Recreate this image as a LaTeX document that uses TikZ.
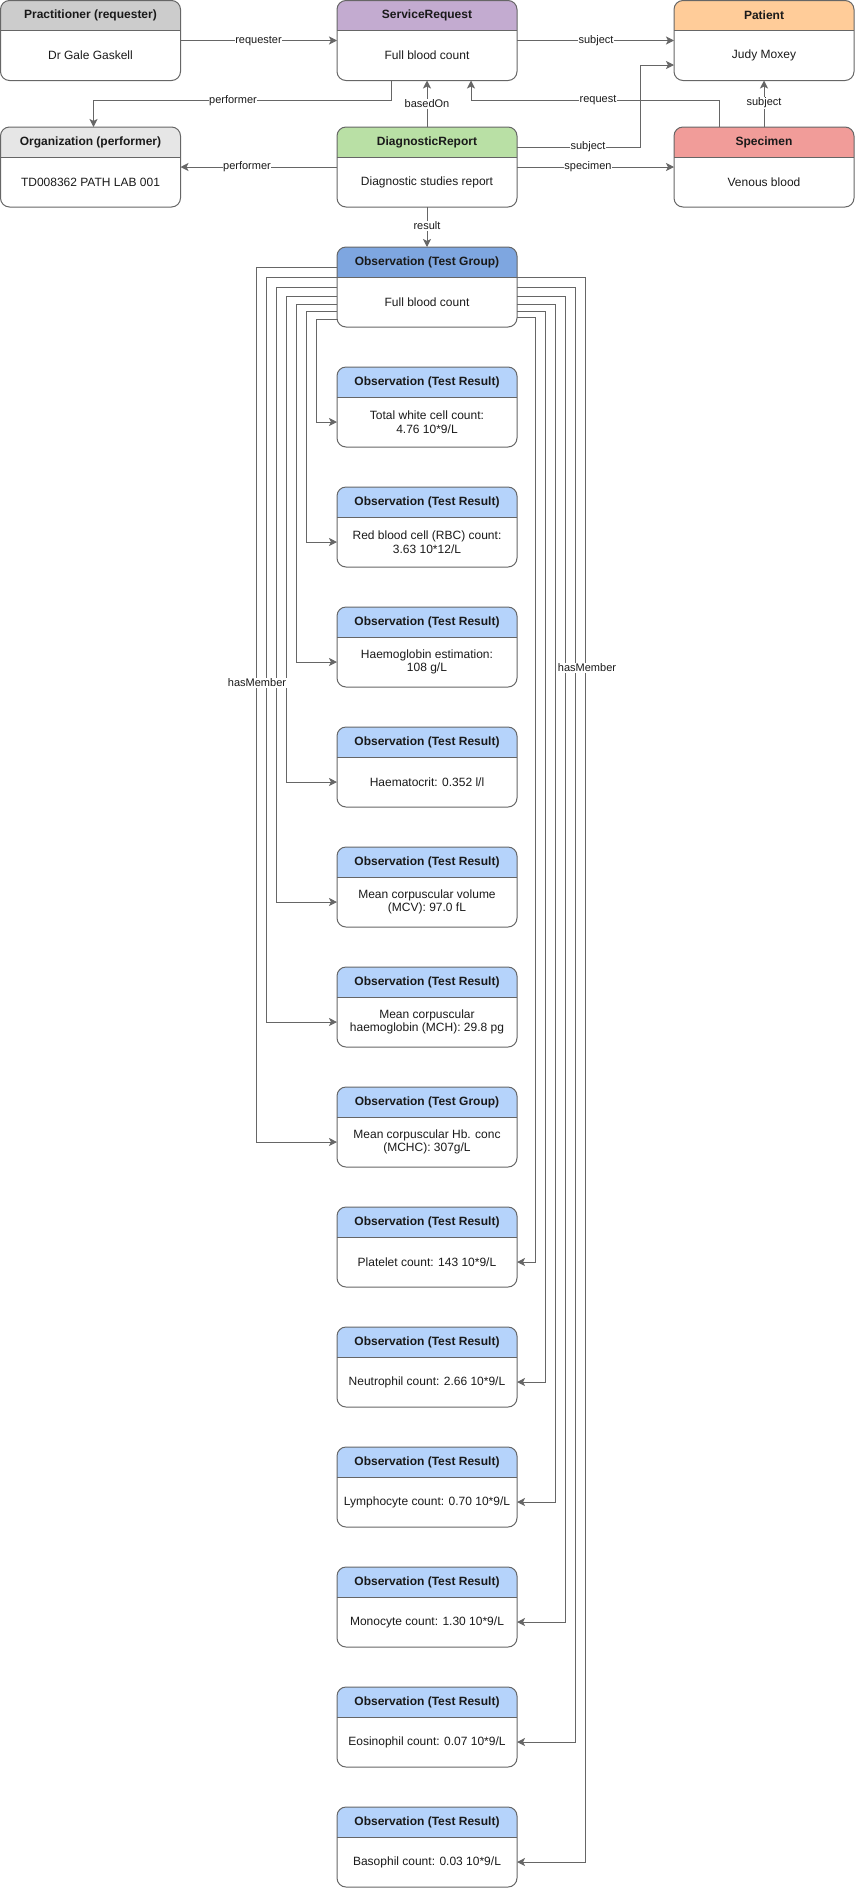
\documentclass[tikz,border=0pt]{standalone}
\usepackage{fontspec}
\setmainfont{Liberation Sans}
\usetikzlibrary{arrows.meta}
\definecolor{lg}{HTML}{666666}
\definecolor{tx}{HTML}{1A1A1A}
\definecolor{cprac}{HTML}{CCCCCC}
\definecolor{csr}{HTML}{C3ABD0}
\definecolor{cpat}{HTML}{FFCC99}
\definecolor{corg}{HTML}{E6E6E6}
\definecolor{cdr}{HTML}{B9E0A5}
\definecolor{cspec}{HTML}{F19C99}
\definecolor{cgrp}{HTML}{7EA6E0}
\definecolor{cres}{HTML}{B5D3FB}
\newcommand\swim[6]{%
  \begin{scope}
    \clip (#2,#3) rectangle ++(180,30);
    \fill[#4,rounded corners=9pt] (#2,#3) rectangle ++(180,80);
  \end{scope}
  \node[swbox] (#1) at ({#2+90},{#3+40}) {};
  \draw[boxline] (#2,{#3+30}) -- ++(180,0);
  \node[hdr] at ({#2+90},{#3+15}) {#5};
  \node[bdy] at ({#2+90},{#3+55}) {#6};
}
\begin{document}
\begin{tikzpicture}[x=1pt,y=-1pt,
  swbox/.style={draw=lg, line width=1pt, rounded corners=9pt, minimum width=180pt, minimum height=80pt, inner sep=0pt, outer sep=0pt},
  boxline/.style={draw=lg, line width=1pt},
  hdr/.style={font=\fontsize{12}{14}\selectfont\bfseries, text=tx, inner sep=0pt},
  bdy/.style={font=\fontsize{12}{13.5}\selectfont, text=tx, align=center, inner sep=0pt},
  conn/.style={draw=lg, line width=1pt, -{Stealth[length=8pt,width=8pt,inset=2pt]}},
  elab/.style={fill=white, font=\fontsize{11}{12}\selectfont, text=tx, inner sep=0.5pt}]
\useasboundingbox (0,0) rectangle (855,1888);

% top row
\swim{prac}{0.5}{0.5}{cprac}{Practitioner (requester)}{Dr Gale Gaskell}
\swim{sr}{337}{0.5}{csr}{ServiceRequest}{Full blood count}
\swim{pat}{674}{0.5}{cpat}{Patient}{Judy Moxey}
% second row
\swim{org}{0.5}{127}{corg}{Organization (performer)}{TD008362 PATH LAB 001}
\swim{dr}{337}{127}{cdr}{DiagnosticReport}{Diagnostic studies report}
\swim{spec}{674}{127}{cspec}{Specimen}{Venous blood}
% group
\swim{grp}{337}{247}{cgrp}{Observation (Test Group)}{Full blood count}
% results
\swim{r0}{337}{367}{cres}{Observation (Test Result)}{Total white cell count:\\4.76 10*9/L}
\swim{r1}{337}{487}{cres}{Observation (Test Result)}{Red blood cell (RBC) count:\\3.63 10*12/L}
\swim{r2}{337}{607}{cres}{Observation (Test Result)}{Haemoglobin estimation:\\108 g/L}
\swim{r3}{337}{727}{cres}{Observation (Test Result)}{Haematocrit: 0.352 l/l}
\swim{r4}{337}{847}{cres}{Observation (Test Result)}{Mean corpuscular volume\\(MCV): 97.0 fL}
\swim{r5}{337}{967}{cres}{Observation (Test Result)}{Mean corpuscular\\haemoglobin (MCH): 29.8 pg}
\swim{r6}{337}{1087}{cres}{Observation (Test Group)}{Mean corpuscular Hb. conc\\(MCHC): 307g/L}
\swim{r7}{337}{1207}{cres}{Observation (Test Result)}{Platelet count: 143 10*9/L}
\swim{r8}{337}{1327}{cres}{Observation (Test Result)}{Neutrophil count: 2.66 10*9/L}
\swim{r9}{337}{1447}{cres}{Observation (Test Result)}{Lymphocyte count: 0.70 10*9/L}
\swim{r10}{337}{1567}{cres}{Observation (Test Result)}{Monocyte count: 1.30 10*9/L}
\swim{r11}{337}{1687}{cres}{Observation (Test Result)}{Eosinophil count: 0.07 10*9/L}
\swim{r12}{337}{1807}{cres}{Observation (Test Result)}{Basophil count: 0.03 10*9/L}

% top connectors
\draw[conn] (prac.east) -- (sr.west);
\draw[conn] (sr.east) -- (pat.west);
\draw[conn] ([xshift=-36pt]sr.south) -- ++(0,20) -| ([xshift=3pt]org.north);
\draw[conn] (dr.north) -- (sr.south);
\draw[conn] (dr.west) -- (org.east);
\draw[conn] ([xshift=-45pt]spec.north) -- ++(0,-27) -| ([xshift=44pt]sr.south);
\draw[conn] (spec.north) -- (pat.south);
\draw[conn] ([yshift=20pt]dr.east) -- ++(123,0) |- ([yshift=-24.5pt]pat.west);
\draw[conn] (dr.east) -- (spec.west);
\draw[conn] (dr.south) -- (grp.north);

% left hasMember connectors
\draw[conn] ([yshift=-72pt]grp.north west) -- ++(-21,0) |- ([yshift=-15pt]r0.west);
\draw[conn] ([yshift=-64pt]grp.north west) -- ++(-31,0) |- ([yshift=-15pt]r1.west);
\draw[conn] ([yshift=-57.3pt]grp.north west) -- ++(-41,0) |- ([yshift=-15pt]r2.west);
\draw[conn] ([yshift=-49pt]grp.north west) -- ++(-51,0) |- ([yshift=-15pt]r3.west);
\draw[conn] ([yshift=-40.7pt]grp.north west) -- ++(-61,0) |- ([yshift=-15pt]r4.west);
\draw[conn] ([yshift=-30.7pt]grp.north west) -- ++(-71,0) |- ([yshift=-15pt]r5.west);
\draw[conn] ([yshift=-20.7pt]grp.north west) -- ++(-81,0) |- ([yshift=-15pt]r6.west);
% right hasMember connectors
\draw[conn] ([yshift=-70.3pt]grp.north east) -- ++(18,0) |- ([yshift=-15pt]r7.east);
\draw[conn] ([yshift=-64.7pt]grp.north east) -- ++(28.7,0) |- ([yshift=-15pt]r8.east);
\draw[conn] ([yshift=-57.3pt]grp.north east) -- ++(38.7,0) |- ([yshift=-15pt]r9.east);
\draw[conn] ([yshift=-49.7pt]grp.north east) -- ++(48.7,0) |- ([yshift=-15pt]r10.east);
\draw[conn] ([yshift=-40.3pt]grp.north east) -- ++(58.7,0) |- ([yshift=-15pt]r11.east);
\draw[conn] ([yshift=-30.3pt]grp.north east) -- ++(68.7,0) |- ([yshift=-15pt]r12.east);

% edge labels
\node[elab] (l1) at (258.5,41) {requester};
\node[elab] (l2) at (596,41) {subject};
\node[elab] (l3) at (233,100.5) {performer};
\node[elab] (l4) at (427,104) {basedOn};
\node[elab] (l5) at (247,167) {performer};
\node[elab] (l6) at (598,100) {request};
\node[elab] (l7) at (764,103) {subject};
\node[elab] (l8) at (588,147) {subject};
\node[elab] (l9) at (588,167) {specimen};
\node[elab] (l10) at (427,226) {result};
\node[elab] (l11) at (257,683) {hasMember};
\node[elab] (l12) at (587,668) {hasMember};
\end{tikzpicture}
\end{document}
